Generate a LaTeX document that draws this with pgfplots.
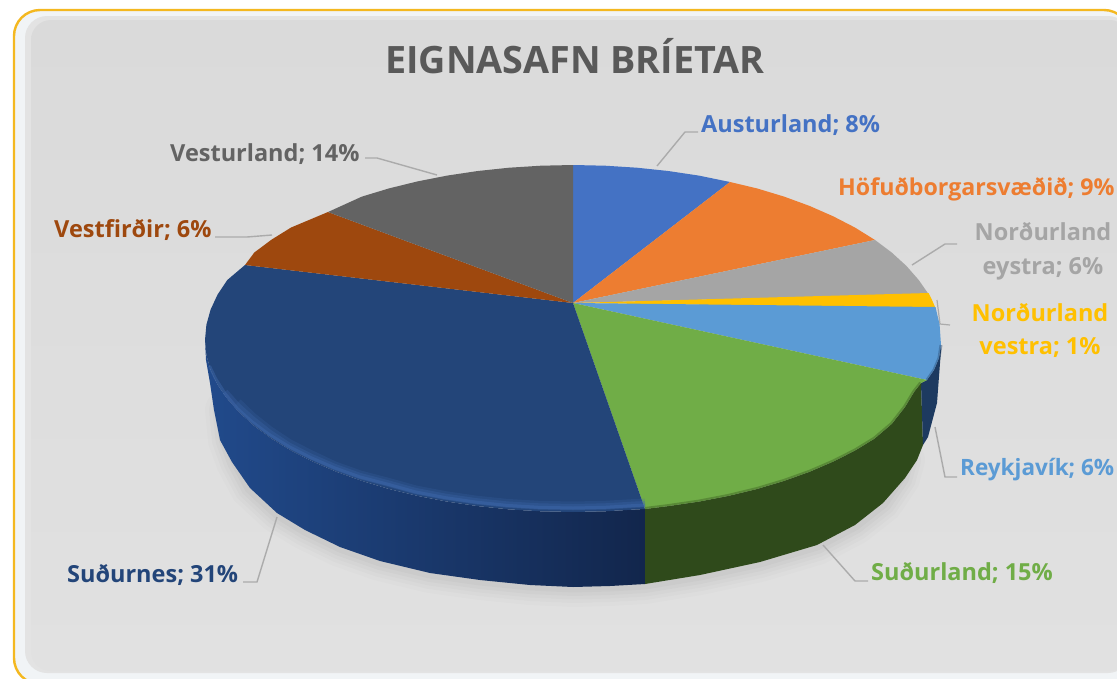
\documentclass[border=0pt]{standalone}
\usepackage{pgfplots}
\pgfplotsset{compat=1.18}
\usepackage{fontspec}
\setmainfont{Open Sans}
\definecolor{cAus}{HTML}{4472C4}
\definecolor{cHof}{HTML}{ED7D31}
\definecolor{cNe}{HTML}{A5A5A5}
\definecolor{cNv}{HTML}{FFC000}
\definecolor{cRey}{HTML}{5B9BD5}
\definecolor{cSul}{HTML}{70AD47}
\definecolor{cSun}{HTML}{234579}
\definecolor{cVf}{HTML}{9E480E}
\definecolor{cVl}{HTML}{636363}
\definecolor{cLead}{HTML}{ABABAB}
\definecolor{cBorder}{HTML}{F4B820}
\definecolor{cBg}{HTML}{DADADA}
\definecolor{cBgB}{HTML}{E1E1E1}
\definecolor{cGlow}{HTML}{F1F4F6}
\definecolor{cGlowB}{HTML}{E3E3E3}
\definecolor{sideA}{HTML}{214A8B}
\definecolor{sideB}{HTML}{1C3768}
\definecolor{sideC}{HTML}{12264C}
\definecolor{sideG}{HTML}{2F4A1B}
\definecolor{sideS}{HTML}{1D3A60}
\definecolor{rimB}{HTML}{3F69AE}
\newcommand{\lab}[1]{\fontsize{23.5}{27}\selectfont\bfseries #1}
\begin{document}
\begin{tikzpicture}
\path[use as bounding box] (0,0) rectangle (1117pt,678pt);
\begin{axis}[at={(0,0)},anchor=south west,width=1117pt,height=678pt,scale only axis,xmin=0,xmax=1117,ymin=0,ymax=678,y dir=reverse,hide axis,clip=true]
% card
\addplot[draw=none,fill=white] coordinates {(0,0)(1117,0)(1117,678)(0,678)} --cycle;
\draw[color=cBorder,line width=2.4pt,fill=cGlow,rounded corners=26pt] (axis cs:14,10) rectangle (axis cs:1130,684);
\fill[cGlowB,rounded corners=22pt] (axis cs:25,16) rectangle (axis cs:1130,673);
\shade[top color=cBg,bottom color=cBgB,rounded corners=20pt] (axis cs:31,20) rectangle (axis cs:1130,671);
% soft shadow
\addplot[draw=black,opacity=.012,line width=40pt,line cap=round] coordinates {(225,410)(228,440)(236,462)(250,488)(277,513)(305,530)(340,547)(380,561)(430,573)(480,580)(530,585)(573,587)(610,586)(645,584)(700,575)(760,562)(817,545)(855,525)(883,503)(900,478)(905,460)};
\addplot[draw=black,opacity=.014,line width=32pt,line cap=round] coordinates {(225,410)(228,440)(236,462)(250,488)(277,513)(305,530)(340,547)(380,561)(430,573)(480,580)(530,585)(573,587)(610,586)(645,584)(700,575)(760,562)(817,545)(855,525)(883,503)(900,478)(905,460)};
\addplot[draw=black,opacity=.016,line width=25pt,line cap=round] coordinates {(225,410)(228,440)(236,462)(250,488)(277,513)(305,530)(340,547)(380,561)(430,573)(480,580)(530,585)(573,587)(610,586)(645,584)(700,575)(760,562)(817,545)(855,525)(883,503)(900,478)(905,460)};
\addplot[draw=black,opacity=.018,line width=18pt,line cap=round] coordinates {(225,410)(228,440)(236,462)(250,488)(277,513)(305,530)(340,547)(380,561)(430,573)(480,580)(530,585)(573,587)(610,586)(645,584)(700,575)(760,562)(817,545)(855,525)(883,503)(900,478)(905,460)};
\addplot[draw=black,opacity=.02,line width=11pt,line cap=round] coordinates {(225,410)(228,440)(236,462)(250,488)(277,513)(305,530)(340,547)(380,561)(430,573)(480,580)(530,585)(573,587)(610,586)(645,584)(700,575)(760,562)(817,545)(855,525)(883,503)(900,478)(905,460)};
% leaders
\addplot[cLead,line width=1.4pt] coordinates {(657,166)(685,132)(698,132)};
\addplot[cLead,line width=1.4pt] coordinates {(912,265)(945,244)(957,244)};
\addplot[cLead,line width=1.2pt] coordinates {(937,300)(940,324)(950,325)};
\addplot[cLead,line width=1.4pt] coordinates {(935,427)(945,477)(957,477)};
\addplot[cLead,line width=1.4pt] coordinates {(823,545)(855,581)(868,581)};
\addplot[cLead,line width=1.4pt] coordinates {(277,517)(257,582)(243,582)};
\addplot[cLead,line width=1.4pt] coordinates {(215,237)(247,237)(272,235)};
\addplot[cLead,line width=1.4pt] coordinates {(365,158)(377,158)(437,175)};
% side faces
\addplot[draw=none,left color=sideA,middle color=sideB,right color=sideC] coordinates {(205,340)(206.4,355)(210.6,369.9)(217.5,384.5)(227.2,398.8)(239.5,412.7)(254.3,426)(271.6,438.7)(291.1,450.6)(312.8,461.6)(336.5,471.8)(361.9,480.9)(389,489)(417.5,495.9)(447.1,501.6)(477.8,506.1)(509.1,509.4)(540.9,511.3)(573,512)(605.1,511.3)(636.9,509.4)(645,509)(645,584)(610,586)(573,587)(530,585)(480,580)(430,573)(380,561)(340,547)(305,530)(277,513)(250,488)(232,462)(220,440)(214,410)(210,383)(206,360)} --cycle;
\addplot[draw=none,fill=sideG] coordinates {(645,509)(668.2,506.1)(698.9,501.6)(728.5,495.9)(757,489)(784.1,480.9)(809.5,471.8)(833.2,461.6)(854.9,450.6)(874.4,438.7)(891.7,424)(905,407)(914,392)(921,383)(923,445)(917,460)(905,478)(883,503)(855,525)(817,545)(760,562)(700,575)(645,584)} --cycle;
\addplot[draw=none,fill=sideS] coordinates {(921,383)(927,380)(934,370)(939,358)(941,345)(941,350)(937,403)(928,437)(923,445)} --cycle;
% top face
\addplot[draw=none,fill=cAus] coordinates {(573,303)(573,165)(605.1,165.7)(636.9,167.7)(668.2,171)(698.9,175.6)(730,182)} --cycle;
\addplot[draw=none,fill=cHof] coordinates {(573,303)(730,182)(757,188.4)(784.1,196.6)(809.5,205.9)(833.2,216.3)(854.9,227.5)(875,240)} --cycle;
\addplot[draw=none,fill=cNe] coordinates {(573,303)(875,240)(891.7,252.5)(906.5,266)(918.8,280.1)(928.5,294)} --cycle;
\addplot[draw=none,fill=cNv] coordinates {(573,303)(928.5,293)(932,300)(935.5,308)} --cycle;
\addplot[draw=none,fill=cRey] coordinates {(573,303)(935.5,307)(939.6,324.7)(941,345)(939,358)(934,370)(927,380)} --cycle;
\addplot[draw=none,fill=cSul] coordinates {(573,303)(927,380)(921,383)(914,392)(905,407)(891.7,424)(874.4,438.7)(854.9,450.6)(833.2,461.6)(809.5,471.8)(784.1,480.9)(757,489)(728.5,495.9)(698.9,501.6)(668.2,506.1)(645,509)} --cycle;
\addplot[draw=none,fill=cSun] coordinates {(573,303)(645,509)(636.9,509.4)(605.1,511.3)(573,512)(540.9,511.3)(509.1,509.4)(477.8,506.1)(447.1,501.6)(417.5,495.9)(389,489)(361.9,480.9)(336.5,471.8)(312.8,461.6)(291.1,450.6)(271.6,438.7)(254.3,426)(239.5,412.7)(227.2,398.8)(217.5,384.5)(210.6,369.9)(206.4,355)(205,340)(206.4,324.7)(210.6,309.6)(217.5,294.7)(227.2,280.1)(245,265)} --cycle;
\addplot[draw=none,fill=cVf] coordinates {(573,303)(245,265)(254.3,252.5)(271.6,239.6)(291.1,227.5)(328,212)} --cycle;
\addplot[draw=none,fill=cVl] coordinates {(573,303)(328,212)(361.9,196.6)(389,188.4)(417.5,181.4)(447.1,175.6)(477.8,171)(509.1,167.7)(540.9,165.7)(573,165)} --cycle;
% rim highlights, running down to the edge of the top face
\addplot[rimB,opacity=.2,line width=9pt] coordinates {(237.5,402.7)(252.3,417)(269.6,430.7)(289.1,443.6)(310.8,454.6)(334.5,465.8)(359.9,474.9)(387,482)(415.5,489.9)(445.1,495.6)(475.8,500.1)(507.1,503.4)(538.9,505.3)(573,506)(605.1,505.3)(636.9,503.4)(645,503)};
\addplot[rimB,opacity=.3,line width=6pt] coordinates {(225.2,391.8)(237.5,405.7)(252.3,419)(269.6,432.7)(289.1,445.6)(310.8,456.6)(334.5,466.8)(359.9,475.9)(387,483)(415.5,490.9)(445.1,496.6)(475.8,501.1)(507.1,504.4)(538.9,506.3)(573,507)(605.1,506.3)(636.9,504.4)(645,504)};
\addplot[rimB,opacity=.45,line width=3pt] coordinates {(209.5,366)(215.5,378.5)(225.2,393.8)(237.5,408.7)(252.3,422)(269.6,434.7)(289.1,446.6)(310.8,457.6)(334.5,467.8)(359.9,476.9)(387,484)(415.5,491.9)(445.1,497.6)(475.8,502.1)(507.1,505.4)(538.9,507.3)(573,508)(605.1,507.3)(636.9,505.4)(645,505)};
\addplot[sideG,opacity=.35,line width=4pt] coordinates {(645,509)(668.2,506.1)(698.9,501.6)(728.5,495.9)(757,489)(784.1,480.9)(809.5,471.8)(833.2,461.6)(854.9,450.6)(874.4,438.7)(891.7,424)(905,407)(914,392)(921,383)};
\addplot[sideS,opacity=.35,line width=3pt] coordinates {(927,380)(934,370)(939,358)(941,345)};
% texts
\node[anchor=base west,inner sep=0pt,text=black!65] at (axis cs:385,73) {\fontsize{37.7}{40}\selectfont\bfseries EIGNASAFN BRÍETAR};
\node[anchor=base west,inner sep=0pt,text=cAus] at (axis cs:701,132) {\lab{Austurland; 8\%}};
\node[anchor=base west,inner sep=0pt,text=cHof] at (axis cs:838,195) {\fontsize{23.2}{27}\selectfont\bfseries Höfuðborgarsvæðið; 9\%};
\node[anchor=base,inner sep=0pt,text=cNe] at (axis cs:1043,240) {\lab{Norðurland}};
\node[anchor=base,inner sep=0pt,text=cNe] at (axis cs:1043,274) {\lab{eystra; 6\%}};
\node[anchor=base,inner sep=0pt,text=cNv] at (axis cs:1040,321) {\lab{Norðurland}};
\node[anchor=base,inner sep=0pt,text=cNv] at (axis cs:1040,354) {\lab{vestra; 1\%}};
\node[anchor=base west,inner sep=0pt,text=cRey] at (axis cs:960,475) {\fontsize{22.5}{27}\selectfont\bfseries Reykjavík; 6\%};
\node[anchor=base west,inner sep=0pt,text=cSul] at (axis cs:871,580) {\lab{Suðurland; 15\%}};
\node[anchor=base west,inner sep=0pt,text=cSun] at (axis cs:67,582) {\lab{Suðurnes; 31\%}};
\node[anchor=base west,inner sep=0pt,text=cVf] at (axis cs:54,237) {\lab{Vestfirðir; 6\%}};
\node[anchor=base west,inner sep=0pt,text=cVl] at (axis cs:170,161) {\lab{Vesturland; 14\%}};
\end{axis}
\end{tikzpicture}
\end{document}
